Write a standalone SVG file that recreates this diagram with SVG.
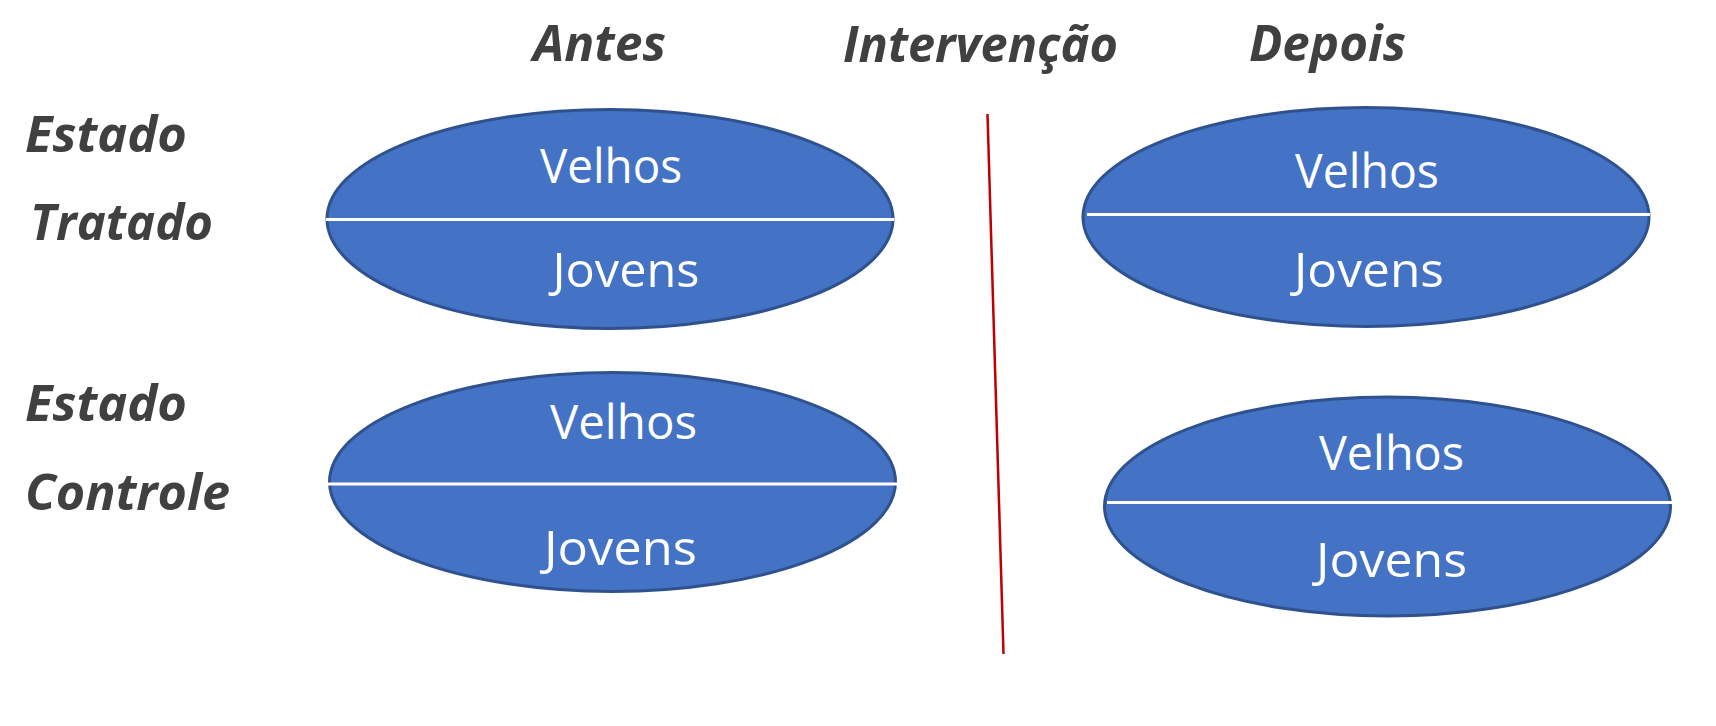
<svg xmlns="http://www.w3.org/2000/svg" width="1716" height="726" viewBox="0 0 1716 726">
<style>
.lbl{font-family:"Open Sans","Noto Sans","Liberation Sans",sans-serif;font-weight:bold;font-style:italic;font-size:50px;fill:#404040}
.in{font-family:"Open Sans","Noto Sans","Liberation Sans",sans-serif;font-size:48px;fill:#ffffff;text-anchor:middle}
.ell{fill:#4472C4;stroke:#2F528F;stroke-width:3}
.div{stroke:#ffffff;stroke-width:3}
</style>
<rect width="1716" height="726" fill="#ffffff"/>
<g id="headers">
<text class="lbl" x="533" y="61" textLength="133" lengthAdjust="spacingAndGlyphs">Antes</text>
<text class="lbl" x="843" y="62" textLength="275" lengthAdjust="spacingAndGlyphs">Intervenção</text>
<text class="lbl" x="1249" y="61" textLength="157" lengthAdjust="spacingAndGlyphs">Depois</text>
</g>
<g id="row-labels">
<text class="lbl" x="25" y="152" textLength="162" lengthAdjust="spacingAndGlyphs">Estado</text>
<text class="lbl" x="30" y="240" textLength="183" lengthAdjust="spacingAndGlyphs">Tratado</text>
<text class="lbl" x="25" y="421" textLength="162" lengthAdjust="spacingAndGlyphs">Estado</text>
<text class="lbl" x="25" y="510" textLength="205" lengthAdjust="spacingAndGlyphs">Controle</text>
</g>
<g id="connectors">
<line x1="987.5" y1="114" x2="1003.5" y2="654" stroke="#C00000" stroke-width="2.5"/>
</g>
<g id="treated-before">
<ellipse class="ell" cx="610" cy="219" rx="283" ry="109.5"/>
<line class="div" x1="326" y1="219.5" x2="894" y2="219.5"/>
<text class="in" x="611" y="183" textLength="142" lengthAdjust="spacingAndGlyphs">Velhos</text>
<text class="in" x="626" y="287" textLength="147" lengthAdjust="spacingAndGlyphs">Jovens</text>
</g>
<g id="treated-after">
<ellipse class="ell" cx="1366" cy="217" rx="283" ry="109.5"/>
<line class="div" x1="1087" y1="214.5" x2="1650" y2="214.5"/>
<text class="in" x="1367" y="188" textLength="144" lengthAdjust="spacingAndGlyphs">Velhos</text>
<text class="in" x="1369" y="287" textLength="150" lengthAdjust="spacingAndGlyphs">Jovens</text>
</g>
<g id="control-before">
<ellipse class="ell" cx="612.5" cy="482" rx="283" ry="109.5"/>
<line class="div" x1="328" y1="484" x2="897" y2="484"/>
<text class="in" x="623.5" y="439" textLength="147" lengthAdjust="spacingAndGlyphs">Velhos</text>
<text class="in" x="620.5" y="565" textLength="153" lengthAdjust="spacingAndGlyphs">Jovens</text>
</g>
<g id="control-after">
<ellipse class="ell" cx="1387.5" cy="506.5" rx="283" ry="109.5"/>
<line class="div" x1="1107" y1="502.5" x2="1674" y2="502.5"/>
<text class="in" x="1391.5" y="470" textLength="145" lengthAdjust="spacingAndGlyphs">Velhos</text>
<text class="in" x="1391.5" y="577" textLength="151" lengthAdjust="spacingAndGlyphs">Jovens</text>
</g>
</svg>
